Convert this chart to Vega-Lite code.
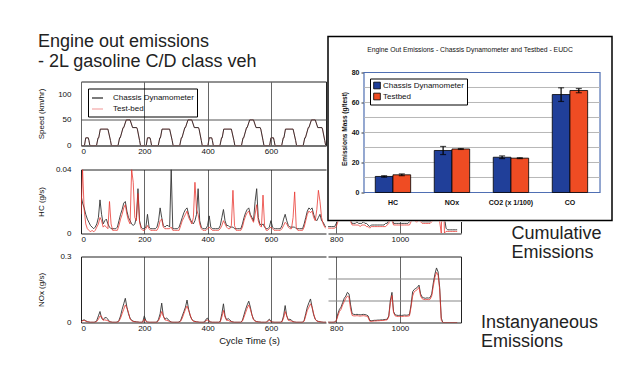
{
  "$schema": "https://vega.github.io/schema/vega-lite/v6.json",
  "background": "white",
  "padding": {"left": 36, "top": 32.5, "right": 0, "bottom": 0},
  "config": {
    "font": "Liberation Sans",
    "view": {"stroke": null},
    "axis": {"labelFont": "Liberation Sans", "titleFont": "Liberation Sans", "labelColor": "#111", "titleColor": "#111", "titleFontWeight": "normal"},
    "title": {"font": "Liberation Sans", "fontWeight": "normal", "color": "#222"},
    "legend": {"labelFont": "Liberation Sans"}
  },
  "datasets": {
    "speed": [
      {"t":0,"kmh":0},{"t":11,"kmh":0},{"t":15,"kmh":15},{"t":23,"kmh":15},{"t":25,"kmh":10},{"t":28,"kmh":0},{"t":49,"kmh":0},{"t":54,"kmh":15},{"t":56,"kmh":15},{"t":61,"kmh":32},{"t":85,"kmh":32},{"t":93,"kmh":10},{"t":96,"kmh":0},{"t":117,"kmh":0},{"t":122,"kmh":15},{"t":124,"kmh":15},{"t":133,"kmh":35},{"t":135,"kmh":35},{"t":143,"kmh":50},{"t":155,"kmh":50},{"t":163,"kmh":35},{"t":176,"kmh":35},{"t":178,"kmh":32},{"t":185,"kmh":10},{"t":188,"kmh":0},
      {"t":195,"kmh":0},{"t":206,"kmh":0},{"t":210,"kmh":15},{"t":218,"kmh":15},{"t":220,"kmh":10},{"t":223,"kmh":0},{"t":244,"kmh":0},{"t":249,"kmh":15},{"t":251,"kmh":15},{"t":256,"kmh":32},{"t":280,"kmh":32},{"t":288,"kmh":10},{"t":291,"kmh":0},{"t":312,"kmh":0},{"t":317,"kmh":15},{"t":319,"kmh":15},{"t":328,"kmh":35},{"t":330,"kmh":35},{"t":338,"kmh":50},{"t":350,"kmh":50},{"t":358,"kmh":35},{"t":371,"kmh":35},{"t":373,"kmh":32},{"t":380,"kmh":10},{"t":383,"kmh":0},
      {"t":390,"kmh":0},{"t":401,"kmh":0},{"t":405,"kmh":15},{"t":413,"kmh":15},{"t":415,"kmh":10},{"t":418,"kmh":0},{"t":439,"kmh":0},{"t":444,"kmh":15},{"t":446,"kmh":15},{"t":451,"kmh":32},{"t":475,"kmh":32},{"t":483,"kmh":10},{"t":486,"kmh":0},{"t":507,"kmh":0},{"t":512,"kmh":15},{"t":514,"kmh":15},{"t":523,"kmh":35},{"t":525,"kmh":35},{"t":533,"kmh":50},{"t":545,"kmh":50},{"t":553,"kmh":35},{"t":566,"kmh":35},{"t":568,"kmh":32},{"t":575,"kmh":10},{"t":578,"kmh":0},
      {"t":585,"kmh":0},{"t":596,"kmh":0},{"t":600,"kmh":15},{"t":608,"kmh":15},{"t":610,"kmh":10},{"t":613,"kmh":0},{"t":634,"kmh":0},{"t":639,"kmh":15},{"t":641,"kmh":15},{"t":646,"kmh":32},{"t":670,"kmh":32},{"t":678,"kmh":10},{"t":681,"kmh":0},{"t":702,"kmh":0},{"t":707,"kmh":15},{"t":709,"kmh":15},{"t":718,"kmh":35},{"t":720,"kmh":35},{"t":728,"kmh":50},{"t":740,"kmh":50},{"t":748,"kmh":35},{"t":761,"kmh":35},{"t":763,"kmh":32},{"t":770,"kmh":10},{"t":773,"kmh":0},
      {"t":780,"kmh":0},{"t":800,"kmh":0},{"t":805,"kmh":15},{"t":807,"kmh":15},{"t":816,"kmh":35},{"t":818,"kmh":35},{"t":826,"kmh":50},{"t":828,"kmh":50},{"t":841,"kmh":70},{"t":891,"kmh":70},{"t":899,"kmh":50},{"t":968,"kmh":50},{"t":981,"kmh":70},{"t":1031,"kmh":70},{"t":1066,"kmh":100},{"t":1096,"kmh":100},{"t":1116,"kmh":120},{"t":1126,"kmh":120},{"t":1142,"kmh":80},{"t":1150,"kmh":50},{"t":1160,"kmh":0},{"t":1180,"kmh":0}
    ],
    "emis": [
      {"t":0,"hc":0.024,"hcT":0.012,"nx":0.002,"nxT":0.001},
      {"t":5,"hc":0.019,"hcT":0.040,"nx":0.010,"nxT":0.008},
      {"t":10,"hc":0.016,"hcT":0.015,"nx":0.012,"nxT":0.010},
      {"t":15,"hc":0.012,"hcT":0.006,"nx":0.008,"nxT":0.006},
      {"t":20,"hc":0.009,"hcT":0.003,"nx":0.004,"nxT":0.003},
      {"t":25,"hc":0.007,"hcT":0.002,"nx":0.002,"nxT":0.002},
      {"t":30,"hc":0.005,"hcT":0.001,"nx":0.001,"nxT":0.001},
      {"t":35,"hc":0.004,"hcT":0.002,"nx":0.001,"nxT":0.001},
      {"t":40,"hc":0.003,"hcT":0.001,"nx":0.001,"nxT":0.001},
      {"t":45,"hc":0.004,"hcT":0.002,"nx":0.002,"nxT":0.001},
      {"t":50,"hc":0.006,"hcT":0.004,"nx":0.010,"nxT":0.005},
      {"t":55,"hc":0.010,"hcT":0.006,"nx":0.030,"nxT":0.015},
      {"t":60,"hc":0.021,"hcT":0.010,"nx":0.050,"nxT":0.030},
      {"t":65,"hc":0.012,"hcT":0.008,"nx":0.020,"nxT":0.028},
      {"t":70,"hc":0.006,"hcT":0.004,"nx":0.012,"nxT":0.010},
      {"t":75,"hc":0.008,"hcT":0.005,"nx":0.022,"nxT":0.012},
      {"t":80,"hc":0.009,"hcT":0.004,"nx":0.022,"nxT":0.010},
      {"t":85,"hc":0.006,"hcT":0.003,"nx":0.015,"nxT":0.008},
      {"t":90,"hc":0.004,"hcT":0.020,"nx":0.004,"nxT":0.003},
      {"t":95,"hc":0.003,"hcT":0.006,"nx":0.002,"nxT":0.002},
      {"t":100,"hc":0.003,"hcT":0.002,"nx":0.001,"nxT":0.001},
      {"t":105,"hc":0.003,"hcT":0.002,"nx":0.001,"nxT":0.001},
      {"t":110,"hc":0.003,"hcT":0.002,"nx":0.001,"nxT":0.001},
      {"t":115,"hc":0.004,"hcT":0.002,"nx":0.002,"nxT":0.001},
      {"t":120,"hc":0.008,"hcT":0.005,"nx":0.010,"nxT":0.006},
      {"t":125,"hc":0.012,"hcT":0.009,"nx":0.030,"nxT":0.020},
      {"t":130,"hc":0.015,"hcT":0.012,"nx":0.060,"nxT":0.040},
      {"t":135,"hc":0.019,"hcT":0.016,"nx":0.085,"nxT":0.060},
      {"t":140,"hc":0.020,"hcT":0.018,"nx":0.110,"nxT":0.080},
      {"t":145,"hc":0.014,"hcT":0.012,"nx":0.070,"nxT":0.065},
      {"t":150,"hc":0.010,"hcT":0.008,"nx":0.040,"nxT":0.045},
      {"t":155,"hc":0.008,"hcT":0.006,"nx":0.020,"nxT":0.015},
      {"t":160,"hc":0.006,"hcT":0.040,"nx":0.010,"nxT":0.008},
      {"t":165,"hc":0.005,"hcT":0.032,"nx":0.006,"nxT":0.005},
      {"t":170,"hc":0.006,"hcT":0.010,"nx":0.004,"nxT":0.003},
      {"t":175,"hc":0.010,"hcT":0.008,"nx":0.003,"nxT":0.002},
      {"t":180,"hc":0.028,"hcT":0.025,"nx":0.002,"nxT":0.002},
      {"t":185,"hc":0.008,"hcT":0.007,"nx":0.001,"nxT":0.001},
      {"t":190,"hc":0.004,"hcT":0.003,"nx":0.001,"nxT":0.001},
      {"t":195,"hc":0.003,"hcT":0.002,"nx":0.002,"nxT":0.001},
      {"t":200,"hc":0.003,"hcT":0.002,"nx":0.030,"nxT":0.015},
      {"t":205,"hc":0.004,"hcT":0.003,"nx":0.008,"nxT":0.005},
      {"t":210,"hc":0.012,"hcT":0.005,"nx":0.002,"nxT":0.002},
      {"t":215,"hc":0.004,"hcT":0.003,"nx":0.001,"nxT":0.001},
      {"t":220,"hc":0.003,"hcT":0.002,"nx":0.001,"nxT":0.001},
      {"t":225,"hc":0.003,"hcT":0.002,"nx":0.001,"nxT":0.001},
      {"t":230,"hc":0.003,"hcT":0.002,"nx":0.001,"nxT":0.001},
      {"t":235,"hc":0.003,"hcT":0.002,"nx":0.001,"nxT":0.001},
      {"t":240,"hc":0.004,"hcT":0.002,"nx":0.002,"nxT":0.001},
      {"t":245,"hc":0.008,"hcT":0.004,"nx":0.015,"nxT":0.008},
      {"t":250,"hc":0.016,"hcT":0.008,"nx":0.040,"nxT":0.025},
      {"t":255,"hc":0.010,"hcT":0.009,"nx":0.088,"nxT":0.050},
      {"t":260,"hc":0.005,"hcT":0.004,"nx":0.030,"nxT":0.030},
      {"t":265,"hc":0.004,"hcT":0.003,"nx":0.015,"nxT":0.012},
      {"t":270,"hc":0.005,"hcT":0.003,"nx":0.020,"nxT":0.010},
      {"t":275,"hc":0.005,"hcT":0.003,"nx":0.015,"nxT":0.008},
      {"t":280,"hc":0.004,"hcT":0.003,"nx":0.006,"nxT":0.004},
      {"t":285,"hc":0.040,"hcT":0.004,"nx":0.002,"nxT":0.002},
      {"t":290,"hc":0.003,"hcT":0.002,"nx":0.001,"nxT":0.001},
      {"t":295,"hc":0.003,"hcT":0.002,"nx":0.001,"nxT":0.001},
      {"t":300,"hc":0.003,"hcT":0.002,"nx":0.001,"nxT":0.001},
      {"t":305,"hc":0.003,"hcT":0.002,"nx":0.001,"nxT":0.001},
      {"t":310,"hc":0.004,"hcT":0.002,"nx":0.002,"nxT":0.001},
      {"t":315,"hc":0.007,"hcT":0.005,"nx":0.010,"nxT":0.006},
      {"t":320,"hc":0.010,"hcT":0.008,"nx":0.030,"nxT":0.020},
      {"t":325,"hc":0.013,"hcT":0.010,"nx":0.050,"nxT":0.040},
      {"t":330,"hc":0.015,"hcT":0.012,"nx":0.070,"nxT":0.060},
      {"t":335,"hc":0.016,"hcT":0.014,"nx":0.102,"nxT":0.075},
      {"t":340,"hc":0.012,"hcT":0.010,"nx":0.060,"nxT":0.055},
      {"t":345,"hc":0.009,"hcT":0.008,"nx":0.030,"nxT":0.035},
      {"t":350,"hc":0.007,"hcT":0.006,"nx":0.015,"nxT":0.012},
      {"t":355,"hc":0.006,"hcT":0.010,"nx":0.008,"nxT":0.006},
      {"t":360,"hc":0.008,"hcT":0.032,"nx":0.005,"nxT":0.004},
      {"t":365,"hc":0.012,"hcT":0.015,"nx":0.003,"nxT":0.003},
      {"t":370,"hc":0.028,"hcT":0.012,"nx":0.002,"nxT":0.002},
      {"t":375,"hc":0.008,"hcT":0.006,"nx":0.001,"nxT":0.001},
      {"t":380,"hc":0.004,"hcT":0.003,"nx":0.001,"nxT":0.001},
      {"t":385,"hc":0.003,"hcT":0.002,"nx":0.001,"nxT":0.001},
      {"t":390,"hc":0.003,"hcT":0.002,"nx":0.002,"nxT":0.001},
      {"t":395,"hc":0.003,"hcT":0.002,"nx":0.015,"nxT":0.008},
      {"t":400,"hc":0.005,"hcT":0.003,"nx":0.020,"nxT":0.012},
      {"t":405,"hc":0.011,"hcT":0.004,"nx":0.006,"nxT":0.004},
      {"t":410,"hc":0.004,"hcT":0.003,"nx":0.002,"nxT":0.002},
      {"t":415,"hc":0.003,"hcT":0.002,"nx":0.001,"nxT":0.001},
      {"t":420,"hc":0.003,"hcT":0.002,"nx":0.001,"nxT":0.001},
      {"t":425,"hc":0.003,"hcT":0.002,"nx":0.001,"nxT":0.001},
      {"t":430,"hc":0.003,"hcT":0.002,"nx":0.001,"nxT":0.001},
      {"t":435,"hc":0.003,"hcT":0.002,"nx":0.001,"nxT":0.001},
      {"t":440,"hc":0.005,"hcT":0.003,"nx":0.005,"nxT":0.003},
      {"t":445,"hc":0.010,"hcT":0.005,"nx":0.040,"nxT":0.025},
      {"t":450,"hc":0.015,"hcT":0.008,"nx":0.085,"nxT":0.055},
      {"t":455,"hc":0.008,"hcT":0.006,"nx":0.030,"nxT":0.025},
      {"t":460,"hc":0.005,"hcT":0.004,"nx":0.012,"nxT":0.010},
      {"t":465,"hc":0.005,"hcT":0.003,"nx":0.018,"nxT":0.010},
      {"t":470,"hc":0.004,"hcT":0.003,"nx":0.012,"nxT":0.006},
      {"t":475,"hc":0.004,"hcT":0.005,"nx":0.005,"nxT":0.004},
      {"t":480,"hc":0.004,"hcT":0.027,"nx":0.002,"nxT":0.002},
      {"t":485,"hc":0.003,"hcT":0.005,"nx":0.001,"nxT":0.001},
      {"t":490,"hc":0.003,"hcT":0.002,"nx":0.001,"nxT":0.001},
      {"t":495,"hc":0.003,"hcT":0.002,"nx":0.001,"nxT":0.001},
      {"t":500,"hc":0.003,"hcT":0.002,"nx":0.001,"nxT":0.001},
      {"t":505,"hc":0.003,"hcT":0.002,"nx":0.001,"nxT":0.001},
      {"t":510,"hc":0.006,"hcT":0.004,"nx":0.010,"nxT":0.006},
      {"t":515,"hc":0.010,"hcT":0.008,"nx":0.035,"nxT":0.025},
      {"t":520,"hc":0.013,"hcT":0.011,"nx":0.060,"nxT":0.045},
      {"t":525,"hc":0.015,"hcT":0.013,"nx":0.080,"nxT":0.065},
      {"t":530,"hc":0.016,"hcT":0.014,"nx":0.097,"nxT":0.080},
      {"t":535,"hc":0.012,"hcT":0.011,"nx":0.070,"nxT":0.060},
      {"t":540,"hc":0.010,"hcT":0.009,"nx":0.035,"nxT":0.035},
      {"t":545,"hc":0.008,"hcT":0.007,"nx":0.015,"nxT":0.012},
      {"t":550,"hc":0.020,"hcT":0.012,"nx":0.008,"nxT":0.006},
      {"t":555,"hc":0.028,"hcT":0.018,"nx":0.004,"nxT":0.004},
      {"t":560,"hc":0.010,"hcT":0.008,"nx":0.003,"nxT":0.002},
      {"t":565,"hc":0.006,"hcT":0.005,"nx":0.002,"nxT":0.002},
      {"t":570,"hc":0.005,"hcT":0.004,"nx":0.001,"nxT":0.001},
      {"t":575,"hc":0.006,"hcT":0.024,"nx":0.001,"nxT":0.001},
      {"t":580,"hc":0.004,"hcT":0.005,"nx":0.001,"nxT":0.001},
      {"t":585,"hc":0.003,"hcT":0.002,"nx":0.001,"nxT":0.001},
      {"t":590,"hc":0.003,"hcT":0.002,"nx":0.008,"nxT":0.005},
      {"t":595,"hc":0.004,"hcT":0.003,"nx":0.015,"nxT":0.010},
      {"t":600,"hc":0.008,"hcT":0.004,"nx":0.006,"nxT":0.004},
      {"t":605,"hc":0.004,"hcT":0.003,"nx":0.002,"nxT":0.002},
      {"t":610,"hc":0.003,"hcT":0.002,"nx":0.001,"nxT":0.001},
      {"t":615,"hc":0.003,"hcT":0.002,"nx":0.001,"nxT":0.001},
      {"t":620,"hc":0.003,"hcT":0.002,"nx":0.001,"nxT":0.001},
      {"t":625,"hc":0.003,"hcT":0.002,"nx":0.001,"nxT":0.001},
      {"t":630,"hc":0.003,"hcT":0.002,"nx":0.001,"nxT":0.001},
      {"t":635,"hc":0.005,"hcT":0.003,"nx":0.005,"nxT":0.003},
      {"t":640,"hc":0.009,"hcT":0.005,"nx":0.030,"nxT":0.020},
      {"t":645,"hc":0.012,"hcT":0.007,"nx":0.077,"nxT":0.050},
      {"t":650,"hc":0.008,"hcT":0.006,"nx":0.030,"nxT":0.030},
      {"t":655,"hc":0.005,"hcT":0.004,"nx":0.012,"nxT":0.010},
      {"t":660,"hc":0.004,"hcT":0.003,"nx":0.015,"nxT":0.008},
      {"t":665,"hc":0.004,"hcT":0.003,"nx":0.010,"nxT":0.006},
      {"t":670,"hc":0.004,"hcT":0.010,"nx":0.004,"nxT":0.003},
      {"t":675,"hc":0.004,"hcT":0.026,"nx":0.002,"nxT":0.002},
      {"t":680,"hc":0.003,"hcT":0.004,"nx":0.001,"nxT":0.001},
      {"t":685,"hc":0.003,"hcT":0.002,"nx":0.001,"nxT":0.001},
      {"t":690,"hc":0.003,"hcT":0.002,"nx":0.001,"nxT":0.001},
      {"t":695,"hc":0.003,"hcT":0.002,"nx":0.001,"nxT":0.001},
      {"t":700,"hc":0.003,"hcT":0.002,"nx":0.001,"nxT":0.001},
      {"t":705,"hc":0.006,"hcT":0.004,"nx":0.010,"nxT":0.006},
      {"t":710,"hc":0.010,"hcT":0.008,"nx":0.040,"nxT":0.030},
      {"t":715,"hc":0.014,"hcT":0.012,"nx":0.070,"nxT":0.055},
      {"t":720,"hc":0.016,"hcT":0.014,"nx":0.090,"nxT":0.070},
      {"t":725,"hc":0.015,"hcT":0.013,"nx":0.107,"nxT":0.085},
      {"t":730,"hc":0.016,"hcT":0.014,"nx":0.070,"nxT":0.070},
      {"t":735,"hc":0.012,"hcT":0.010,"nx":0.035,"nxT":0.040},
      {"t":740,"hc":0.009,"hcT":0.008,"nx":0.015,"nxT":0.015},
      {"t":745,"hc":0.008,"hcT":0.015,"nx":0.008,"nxT":0.006},
      {"t":750,"hc":0.010,"hcT":0.027,"nx":0.005,"nxT":0.004},
      {"t":755,"hc":0.012,"hcT":0.020,"nx":0.003,"nxT":0.003},
      {"t":760,"hc":0.008,"hcT":0.010,"nx":0.002,"nxT":0.002},
      {"t":765,"hc":0.007,"hcT":0.006,"nx":0.001,"nxT":0.001},
      {"t":770,"hc":0.005,"hcT":0.004,"nx":0.001,"nxT":0.001},
      {"t":775,"hc":0.004,"hcT":0.003,"nx":0.001,"nxT":0.001},
      {"t":780,"hc":0.004,"hcT":0.003,"nx":0.001,"nxT":0.001},
      {"t":785,"hc":0.004,"hcT":0.003,"nx":0.001,"nxT":0.001},
      {"t":790,"hc":0.004,"hcT":0.003,"nx":0.001,"nxT":0.001},
      {"t":795,"hc":0.004,"hcT":0.003,"nx":0.002,"nxT":0.001},
      {"t":800,"hc":0.006,"hcT":0.004,"nx":0.010,"nxT":0.008},
      {"t":805,"hc":0.009,"hcT":0.007,"nx":0.040,"nxT":0.030},
      {"t":810,"hc":0.012,"hcT":0.010,"nx":0.060,"nxT":0.050},
      {"t":815,"hc":0.010,"hcT":0.009,"nx":0.070,"nxT":0.060},
      {"t":820,"hc":0.012,"hcT":0.010,"nx":0.090,"nxT":0.080},
      {"t":825,"hc":0.015,"hcT":0.013,"nx":0.110,"nxT":0.095},
      {"t":830,"hc":0.018,"hcT":0.015,"nx":0.120,"nxT":0.110},
      {"t":835,"hc":0.016,"hcT":0.014,"nx":0.137,"nxT":0.120},
      {"t":840,"hc":0.012,"hcT":0.012,"nx":0.130,"nxT":0.115},
      {"t":845,"hc":0.008,"hcT":0.007,"nx":0.080,"nxT":0.060},
      {"t":850,"hc":0.006,"hcT":0.005,"nx":0.040,"nxT":0.032},
      {"t":855,"hc":0.006,"hcT":0.005,"nx":0.037,"nxT":0.030},
      {"t":860,"hc":0.006,"hcT":0.005,"nx":0.036,"nxT":0.030},
      {"t":865,"hc":0.007,"hcT":0.005,"nx":0.037,"nxT":0.031},
      {"t":870,"hc":0.006,"hcT":0.005,"nx":0.036,"nxT":0.030},
      {"t":875,"hc":0.006,"hcT":0.004,"nx":0.035,"nxT":0.029},
      {"t":880,"hc":0.006,"hcT":0.005,"nx":0.036,"nxT":0.030},
      {"t":885,"hc":0.007,"hcT":0.005,"nx":0.037,"nxT":0.031},
      {"t":890,"hc":0.006,"hcT":0.005,"nx":0.036,"nxT":0.030},
      {"t":895,"hc":0.006,"hcT":0.004,"nx":0.034,"nxT":0.028},
      {"t":900,"hc":0.005,"hcT":0.004,"nx":0.030,"nxT":0.025},
      {"t":905,"hc":0.004,"hcT":0.003,"nx":0.010,"nxT":0.006},
      {"t":910,"hc":0.005,"hcT":0.004,"nx":0.008,"nxT":0.005},
      {"t":915,"hc":0.005,"hcT":0.004,"nx":0.009,"nxT":0.006},
      {"t":920,"hc":0.005,"hcT":0.004,"nx":0.010,"nxT":0.007},
      {"t":925,"hc":0.005,"hcT":0.004,"nx":0.010,"nxT":0.007},
      {"t":930,"hc":0.005,"hcT":0.004,"nx":0.011,"nxT":0.008},
      {"t":935,"hc":0.005,"hcT":0.004,"nx":0.011,"nxT":0.008},
      {"t":940,"hc":0.005,"hcT":0.004,"nx":0.012,"nxT":0.009},
      {"t":945,"hc":0.005,"hcT":0.004,"nx":0.012,"nxT":0.009},
      {"t":950,"hc":0.005,"hcT":0.004,"nx":0.013,"nxT":0.010},
      {"t":955,"hc":0.006,"hcT":0.004,"nx":0.014,"nxT":0.011},
      {"t":960,"hc":0.006,"hcT":0.005,"nx":0.015,"nxT":0.012},
      {"t":965,"hc":0.008,"hcT":0.006,"nx":0.030,"nxT":0.025},
      {"t":970,"hc":0.015,"hcT":0.010,"nx":0.100,"nxT":0.090},
      {"t":975,"hc":0.010,"hcT":0.008,"nx":0.137,"nxT":0.123},
      {"t":980,"hc":0.006,"hcT":0.005,"nx":0.050,"nxT":0.045},
      {"t":985,"hc":0.006,"hcT":0.005,"nx":0.035,"nxT":0.030},
      {"t":990,"hc":0.006,"hcT":0.005,"nx":0.033,"nxT":0.028},
      {"t":995,"hc":0.006,"hcT":0.005,"nx":0.032,"nxT":0.027},
      {"t":1000,"hc":0.006,"hcT":0.005,"nx":0.033,"nxT":0.028},
      {"t":1005,"hc":0.006,"hcT":0.005,"nx":0.032,"nxT":0.027},
      {"t":1010,"hc":0.006,"hcT":0.005,"nx":0.033,"nxT":0.028},
      {"t":1015,"hc":0.006,"hcT":0.005,"nx":0.034,"nxT":0.029},
      {"t":1020,"hc":0.006,"hcT":0.005,"nx":0.033,"nxT":0.028},
      {"t":1025,"hc":0.006,"hcT":0.005,"nx":0.034,"nxT":0.029},
      {"t":1030,"hc":0.007,"hcT":0.005,"nx":0.036,"nxT":0.030},
      {"t":1035,"hc":0.008,"hcT":0.007,"nx":0.080,"nxT":0.070},
      {"t":1040,"hc":0.010,"hcT":0.008,"nx":0.140,"nxT":0.120},
      {"t":1045,"hc":0.009,"hcT":0.008,"nx":0.150,"nxT":0.140},
      {"t":1050,"hc":0.008,"hcT":0.007,"nx":0.155,"nxT":0.145},
      {"t":1055,"hc":0.008,"hcT":0.007,"nx":0.160,"nxT":0.150},
      {"t":1060,"hc":0.009,"hcT":0.008,"nx":0.170,"nxT":0.160},
      {"t":1065,"hc":0.008,"hcT":0.007,"nx":0.130,"nxT":0.120},
      {"t":1070,"hc":0.007,"hcT":0.006,"nx":0.115,"nxT":0.108},
      {"t":1075,"hc":0.007,"hcT":0.006,"nx":0.112,"nxT":0.105},
      {"t":1080,"hc":0.007,"hcT":0.006,"nx":0.110,"nxT":0.104},
      {"t":1085,"hc":0.007,"hcT":0.006,"nx":0.112,"nxT":0.105},
      {"t":1090,"hc":0.007,"hcT":0.006,"nx":0.111,"nxT":0.104},
      {"t":1095,"hc":0.007,"hcT":0.006,"nx":0.113,"nxT":0.106},
      {"t":1100,"hc":0.008,"hcT":0.007,"nx":0.130,"nxT":0.120},
      {"t":1105,"hc":0.010,"hcT":0.009,"nx":0.180,"nxT":0.165},
      {"t":1110,"hc":0.010,"hcT":0.009,"nx":0.220,"nxT":0.205},
      {"t":1115,"hc":0.012,"hcT":0.010,"nx":0.248,"nxT":0.228},
      {"t":1120,"hc":0.010,"hcT":0.009,"nx":0.230,"nxT":0.215},
      {"t":1125,"hc":0.008,"hcT":0.007,"nx":0.160,"nxT":0.150},
      {"t":1130,"hc":0.035,"hcT":0.000,"nx":0.020,"nxT":0.010},
      {"t":1135,"hc":0.040,"hcT":0.040,"nx":0.000,"nxT":0.000},
      {"t":1140,"hc":0.010,"hcT":0.000,"nx":0.000,"nxT":0.000},
      {"t":1145,"hc":0.003,"hcT":0.001,"nx":0.000,"nxT":0.000},
      {"t":1150,"hc":0.002,"hcT":0.001,"nx":0.000,"nxT":0.000},
      {"t":1155,"hc":0.002,"hcT":0.001,"nx":0.000,"nxT":0.000},
      {"t":1160,"hc":0.002,"hcT":0.001,"nx":0.000,"nxT":0.000},
      {"t":1165,"hc":0.002,"hcT":0.001,"nx":0.000,"nxT":0.000},
      {"t":1170,"hc":0.002,"hcT":0.001,"nx":0.000,"nxT":0.000},
      {"t":1175,"hc":0.002,"hcT":0.001,"nx":0.000,"nxT":0.000},
      {"t":1180,"hc":0.002,"hcT":0.001,"nx":0.000,"nxT":0.000}
    ],
    "bars": [
      {"pollutant":"HC","source":"Chassis Dynamometer","val":10.7,"lo":10.2,"hi":11.2},
      {"pollutant":"HC","source":"Testbed","val":11.8,"lo":11.2,"hi":12.4},
      {"pollutant":"NOx","source":"Chassis Dynamometer","val":28,"lo":25.3,"hi":30.7},
      {"pollutant":"NOx","source":"Testbed","val":29,"lo":28.7,"hi":29.3},
      {"pollutant":"CO2 (x 1/100)","source":"Chassis Dynamometer","val":23.5,"lo":22.6,"hi":24.4},
      {"pollutant":"CO2 (x 1/100)","source":"Testbed","val":22.9,"lo":22.6,"hi":23.2},
      {"pollutant":"CO","source":"Chassis Dynamometer","val":65.3,"lo":60.7,"hi":69.8},
      {"pollutant":"CO","source":"Testbed","val":68,"lo":66.5,"hi":69.3}
    ],
    "grid": [{"g":10},{"g":20},{"g":30},{"g":40},{"g":50},{"g":60},{"g":70}]
  },
  "spacing": 0,
  "resolve": {"scale": {"color": "independent", "x": "independent", "y": "independent"}},
  "hconcat": [
    {
      "spacing": 9,
      "resolve": {"scale": {"color": "independent", "x": "independent", "y": "independent"}},
      "vconcat": [
        {
          "width": 1, "height": 1,
          "title": {"text": ["Engine out emissions", "- 2L gasoline C/D class veh"], "anchor": "start", "fontSize": 18, "lineHeight": 19.5, "offset": -34.25, "dx": -43, "color": "#222"},
          "data": {"values": []},
          "mark": "point"
        },
        {
          "width": 245, "height": 64,
          "data": {"name": "speed"},
          "view": {"stroke": "#222", "strokeWidth": 1},
          "encoding": {
            "x": {"field": "t", "type": "quantitative", "scale": {"domain": [0, 774], "nice": false}, "axis": {"values": [0,200,400,600], "format": "d", "title": null, "labelFontSize": 8, "ticks": false, "labelPadding": 2, "domain": false, "grid": true, "gridColor": "#666"}},
            "y": {"field": "kmh", "type": "quantitative", "scale": {"domain": [0, 125], "nice": false}, "axis": {"values": [0,50,100], "format": "d", "title": "Speed (km/hr)", "titleFontSize": 8, "labelFontSize": 8, "ticks": false, "labelPadding": 10, "minExtent": 30, "maxExtent": 30, "titlePadding": 6, "domain": false, "grid": true, "gridColor": "#555", "gridOpacity": {"condition": {"test": "datum.value == 100", "value": 0}, "value": 1}}}
          },
          "layer": [
            {"mark": {"type": "line", "strokeWidth": 1, "clip": true}, "encoding": {"color": {"datum": "Test-bed"}}},
            {"mark": {"type": "line", "strokeWidth": 0.9, "clip": true}, "encoding": {"color": {"datum": "Chassis Dynamometer", "scale": {"domain": ["Chassis Dynamometer", "Test-bed"], "range": ["#222222", "#f4a6a6"]}, "legend": {"orient": "top-left", "offset": 7, "title": null, "symbolType": "stroke", "symbolSize": 121, "symbolStrokeWidth": 1.2, "labelFontSize": 8, "strokeColor": "#000", "padding": 3, "rowPadding": 0, "labelOffset": 9, "labelColor": "#111"}}}}
          ]
        },
        {
          "width": 245, "height": 64,
          "data": {"name": "emis"},
          "encoding": {
            "x": {"field": "t", "type": "quantitative", "scale": {"domain": [0, 774], "nice": false}, "axis": {"values": [0,200,400,600], "format": "d", "title": null, "labelFontSize": 8, "ticks": false, "labelPadding": 2, "domain": false, "grid": true, "gridColor": "#666"}}
          },
          "layer": [
            {"mark": {"type": "line", "strokeWidth": 0.9, "color": "#333333", "clip": true}, "encoding": {"y": {"field": "hc", "type": "quantitative", "scale": {"domain": [0, 0.04], "nice": false}, "axis": {"values": [0, 0.02, 0.04], "format": "~g", "title": "HC (g/s)", "titleFontSize": 8, "labelFontSize": 8, "ticks": false, "labelPadding": 10, "minExtent": 30, "maxExtent": 30, "titlePadding": 6, "domain": true, "domainColor": "#222", "grid": true, "gridColor": {"condition": {"test": "datum.value == 0.02", "value": "#aaaaaa"}, "value": "#222222"}, "gridWidth": {"condition": {"test": "datum.value == 0.02", "value": 2}, "value": 1}}}}},
            {"mark": {"type": "line", "strokeWidth": 0.9, "color": "#e8302a", "opacity": 0.85, "clip": true}, "encoding": {"y": {"field": "hcT", "type": "quantitative", "title": "HC (g/s)"}}}
          ]
        },
        {
          "width": 245, "height": 66,
          "data": {"name": "emis"},
          "encoding": {
            "x": {"field": "t", "type": "quantitative", "scale": {"domain": [0, 774], "nice": false}, "axis": {"values": [0,200,400,600], "format": "d", "title": "Cycle Time (s)", "titleX": 168, "titleFontSize": 9.5, "titlePadding": 3, "labelFontSize": 8, "ticks": false, "labelPadding": 2, "domain": false, "grid": true, "gridColor": "#666"}}
          },
          "layer": [
            {"mark": {"type": "line", "strokeWidth": 0.9, "color": "#333333", "clip": true}, "encoding": {"y": {"field": "nx", "type": "quantitative", "scale": {"domain": [0, 0.3], "nice": false}, "axis": {"values": [0, 0.1, 0.2, 0.3], "format": "~g", "title": "NOx (g/s)", "titleFontSize": 8, "labelFontSize": 8, "ticks": false, "labelPadding": 10, "minExtent": 30, "maxExtent": 30, "titlePadding": 6, "domain": true, "domainColor": "#222", "grid": true, "gridColor": {"condition": {"test": "datum.value == 0 || datum.value == 0.3", "value": "#222222"}, "value": "#888888"}, "gridWidth": 1.2}}}},
            {"mark": {"type": "line", "strokeWidth": 0.9, "color": "#e8302a", "opacity": 0.85, "clip": true}, "encoding": {"y": {"field": "nxT", "type": "quantitative", "title": "NOx (g/s)"}}}
          ]
        }
      ]
    },
    {
      "spacing": 0,
      "resolve": {"scale": {"color": "independent", "x": "independent", "y": "independent"}},
      "vconcat": [
        {
          "width": 284, "height": 184,
          "view": {"fill": "white", "stroke": "#000", "strokeWidth": 1.5},
          "title": {"text": "Engine Out Emissions - Chassis Dynamometer and Testbed - EUDC", "fontSize": 6.8, "offset": -17, "anchor": "middle", "frame": "group", "color": "#111"},
          "resolve": {"scale": {"x": "independent"}},
          "layer": [
            {
              "layer": [
                {
                  "data": {"values": [{}]},
                  "mark": {"type": "rect", "fill": "white", "stroke": "#4f6fb3", "strokeWidth": 1.2},
                  "encoding": {
                    "x": {"datum": -0.5, "type": "quantitative", "scale": {"domain": [-1.11, 3.703], "nice": false, "zero": false}, "axis": null},
                    "x2": {"datum": 3.5},
                    "y": {"datum": 0, "type": "quantitative", "title": "Emissions Mass (g/test)", "scale": {"domain": [-18.667, 104], "nice": false, "zero": false}},
                    "y2": {"datum": 80}
                  }
                },
                {
                  "data": {"name": "grid"},
                  "mark": {"type": "rule", "color": "#b8b8b8", "strokeWidth": 1},
                  "encoding": {
                    "x": {"datum": -0.5, "type": "quantitative", "axis": null},
                    "x2": {"datum": 3.5},
                    "y": {"field": "g", "type": "quantitative", "title": "Emissions Mass (g/test)"}
                  }
                }
              ]
            },
            {
              "data": {"name": "bars"},
              "encoding": {
                "x": {"field": "pollutant", "type": "nominal", "sort": ["HC", "NOx", "CO2 (x 1/100)", "CO"], "scale": {"paddingInner": 0.4, "paddingOuter": 0.607, "align": 0.66}, "axis": {"orient": "bottom", "offset": -28, "title": null, "labelAngle": 0, "domain": false, "ticks": false, "labelFontSize": 7, "labelFontWeight": "bold", "labelPadding": 6}},
                "xOffset": {"field": "source", "type": "nominal", "sort": ["Chassis Dynamometer", "Testbed"]}
              },
              "layer": [
                {
                  "mark": {"type": "bar", "stroke": "#000", "strokeWidth": 0.8},
                  "encoding": {
                    "y": {"field": "val", "type": "quantitative", "title": "Emissions Mass (g/test)", "axis": {"offset": -36, "values": [0,10,20,30,40,50,60,70,80], "domain": false, "grid": false, "tickSize": 3, "tickColor": "#333", "labelFontSize": 7, "labelFontWeight": "bold", "titleFontSize": 6.5, "titleFontWeight": "bold", "labelPadding": 2, "titlePadding": 4}},
                    "color": {"field": "source", "type": "nominal", "scale": {"domain": ["Chassis Dynamometer", "Testbed"], "range": ["#203f99", "#ef4c23"]}, "legend": {"orient": "top-left", "offset": 42, "title": null, "symbolType": "square", "symbolSize": 45, "symbolStrokeColor": "#000", "symbolStrokeWidth": 0.8, "labelFontSize": 8, "labelColor": "#111", "strokeColor": "#000", "fillColor": "white", "padding": 3, "rowPadding": 1, "labelOffset": 2}}
                  }
                },
                {
                  "mark": {"type": "rule", "color": "#000", "strokeWidth": 1.2},
                  "encoding": {
                    "y": {"field": "lo", "type": "quantitative", "title": "Emissions Mass (g/test)"},
                    "y2": {"field": "hi"}
                  }
                },
                {
                  "mark": {"type": "tick", "color": "#000", "size": 6, "thickness": 1.2},
                  "encoding": {"y": {"field": "lo", "type": "quantitative", "title": "Emissions Mass (g/test)"}}
                },
                {
                  "mark": {"type": "tick", "color": "#000", "size": 6, "thickness": 1.2},
                  "encoding": {"y": {"field": "hi", "type": "quantitative", "title": "Emissions Mass (g/test)"}}
                }
              ]
            }
          ]
        },
        {
          "spacing": 20,
          "resolve": {"scale": {"x": "independent", "y": "independent"}},
          "hconcat": [
            {
              "spacing": 13,
              "resolve": {"scale": {"x": "independent", "y": "independent"}},
              "vconcat": [
                {
                  "width": 133, "height": 11.5,
                  "data": {"name": "emis"},
                  "encoding": {
                    "x": {"field": "t", "type": "quantitative", "scale": {"domain": [774, 1192], "nice": false, "zero": false}, "axis": {"values": [800, 1000], "format": "d", "title": null, "labelFontSize": 8, "ticks": false, "labelPadding": 2, "domain": false, "grid": true, "gridColor": "#666"}}
                  },
                  "layer": [
                    {"mark": {"type": "line", "strokeWidth": 0.9, "color": "#333333", "clip": true}, "encoding": {"y": {"field": "hc", "type": "quantitative", "scale": {"domain": [0, 0.0071875], "nice": false}, "axis": {"orient": "right", "values": [0], "labels": false, "ticks": false, "grid": true, "gridColor": "#222222", "domain": true, "domainColor": "#222", "title": null}}}},
                    {"mark": {"type": "line", "strokeWidth": 0.9, "color": "#e8302a", "opacity": 0.85, "clip": true}, "encoding": {"y": {"field": "hcT", "type": "quantitative", "axis": {"orient": "right", "values": [0], "labels": false, "ticks": false, "grid": true, "gridColor": "#222222", "domain": true, "domainColor": "#222", "title": null}}}}
                  ]
                },
                {
                  "width": 133, "height": 66,
                  "data": {"name": "emis"},
                  "encoding": {
                    "x": {"field": "t", "type": "quantitative", "scale": {"domain": [774, 1192], "nice": false, "zero": false}, "axis": {"values": [800, 1000], "format": "d", "title": null, "labelFontSize": 8, "ticks": false, "labelPadding": 2, "domain": false, "grid": true, "gridColor": "#666"}}
                  },
                  "layer": [
                    {"mark": {"type": "line", "strokeWidth": 0.9, "color": "#333333", "clip": true}, "encoding": {"y": {"field": "nx", "type": "quantitative", "scale": {"domain": [0, 0.3], "nice": false}, "axis": {"orient": "right", "values": [0, 0.1, 0.2, 0.3], "labels": false, "ticks": false, "domain": true, "domainColor": "#222", "title": null, "grid": true, "gridColor": {"condition": {"test": "datum.value == 0 || datum.value == 0.3", "value": "#222222"}, "value": "#888888"}, "gridWidth": 1.2}}}},
                    {"mark": {"type": "line", "strokeWidth": 0.9, "color": "#e8302a", "opacity": 0.85, "clip": true}, "encoding": {"y": {"field": "nxT", "type": "quantitative", "axis": {"orient": "right", "values": [0, 0.1, 0.2, 0.3], "labels": false, "ticks": false, "domain": true, "domainColor": "#222", "title": null, "grid": true, "gridColor": {"condition": {"test": "datum.value == 0 || datum.value == 0.3", "value": "#222222"}, "value": "#888888"}, "gridWidth": 1.2}}}}
                  ]
                }
              ]
            },
            {
              "spacing": 10,
              "vconcat": [
                {
                  "width": 1, "height": 1,
                  "title": {"text": ["Cumulative", "Emissions"], "orient": "bottom", "anchor": "start", "fontSize": 18, "lineHeight": 19, "offset": 2, "dx": 30.5, "color": "#222"},
                  "data": {"values": []},
                  "mark": "point"
                },
                {
                  "width": 1, "height": 41.5,
                  "title": {"text": ["Instanyaneous", "Emissions"], "orient": "bottom", "anchor": "start", "fontSize": 18, "lineHeight": 18.5, "offset": 1, "color": "#222"},
                  "data": {"values": []},
                  "mark": "point"
                }
              ]
            }
          ]
        }
      ]
    }
  ]
}
